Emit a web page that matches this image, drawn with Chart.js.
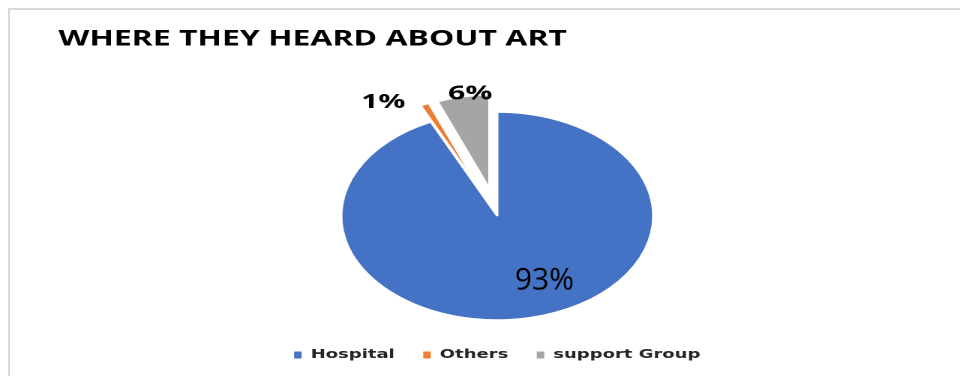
<!DOCTYPE html>
<html>
<head>
<meta charset="utf-8">
<title>Where they heard about ART</title>
<script src="https://cdn.jsdelivr.net/npm/chart.js@4.4.1/dist/chart.umd.min.js"></script>
<style>
  html, body { margin: 0; padding: 0; background: #fff; overflow: hidden; }
  body { width: 960px; height: 376px; position: relative; }
  .frame {
    position: absolute; left: 8px; top: 8px; width: 1000px; height: 400px;
    border-left: 2px solid #d9d9d9; border-top: 2px solid #d9d9d9;
  }
  /* chart is laid out at 640 wide and widened to fill the panel */
  .stretch {
    position: absolute; left: 0; top: 0; width: 640px; height: 376px;
    transform: scaleX(1.5); transform-origin: 0 0;
  }
</style>
</head>
<body>
<div class="frame"></div>
<div class="stretch"><canvas id="artChart" width="640" height="376"></canvas></div>
<script>
// =====================================================
// Where respondents heard about ART
// =====================================================

const sources = ['Hospital', 'Others', 'support Group'];
const shares = [93, 1, 6];
const sliceColors = ['#4472C4', '#ED7D31', '#A5A5A5'];

// pull slices out along their bisector (keeps the slice angle intact,
// unlike the built-in offset which narrows thin slices to nothing)
const explodeSlices = {
    id: 'explodeSlices',
    beforeDatasetsDraw(chart, args, opts) {
        const area = chart.chartArea;
        const cx = (area.left + area.right) / 2;
        const cy = (area.top + area.bottom) / 2;
        const meta = chart.getDatasetMeta(0);
        const full = meta.controller.outerRadius;
        meta.data.forEach((arc, i) => {
            const d = opts.pull[i] || 0;
            const mid = (arc.startAngle + arc.endAngle) / 2;
            arc.x = cx + Math.cos(mid) * d;
            arc.y = cy + Math.sin(mid) * d;
            arc.outerRadius = d ? full * opts.ratio : full;
        });
    }
};

// percentage labels around each slice
const pctLabels = {
    id: 'pctLabels',
    afterDatasetsDraw(chart, args, opts) {
        const ctx = chart.ctx;
        const area = chart.chartArea;
        const cx = (area.left + area.right) / 2;
        const cy = (area.top + area.bottom) / 2;
        const meta = chart.getDatasetMeta(0);
        const r = meta.controller.outerRadius;
        const values = chart.data.datasets[0].data;
        meta.data.forEach((arc, i) => {
            const mid = (arc.startAngle + arc.endAngle) / 2 + opts.turn[i] * Math.PI / 180;
            const x = cx + Math.cos(mid) * r * opts.dist[i];
            const y = cy + Math.sin(mid) * r * opts.dist[i];
            ctx.save();
            ctx.translate(x, y);
            ctx.scale(opts.squeeze[i], 1);
            ctx.font = opts.fonts[i];
            ctx.fillStyle = '#000';
            ctx.textAlign = 'center';
            ctx.textBaseline = 'middle';
            ctx.fillText(values[i] + '%', 0, 0);
            ctx.restore();
        });
    }
};

new Chart(document.getElementById('artChart'), {
    type: 'pie',
    data: {
        labels: sources,
        datasets: [{
            data: shares,
            backgroundColor: sliceColors,
            borderColor: '#fff',
            borderWidth: 1.5
        }]
    },
    plugins: [explodeSlices, pctLabels],
    options: {
        responsive: false,
        devicePixelRatio: 2,
        animation: false,
        events: [],
        radius: 104,
        layout: { padding: { left: 39, right: 16, top: 0, bottom: 5 } },
        plugins: {
            tooltip: { enabled: false },
            title: {
                display: true,
                text: 'WHERE THEY HEARD ABOUT ART',
                align: 'start',
                color: '#000',
                font: { family: 'Open Sans', weight: 'bold', size: 21.3 },
                padding: { top: 26.5, bottom: 50 }
            },
            legend: {
                position: 'bottom',
                labels: {
                    boxWidth: 5,
                    boxHeight: 7,
                    padding: 19,
                    color: '#262626',
                    font: { family: 'DejaVu Sans', weight: 'bold', size: 12 },
                    generateLabels(chart) {
                        return Chart.overrides.doughnut.plugins.legend.labels.generateLabels(chart)
                            .map(item => Object.assign(item, { lineWidth: 0 }));
                    }
                }
            },
            explodeSlices: { pull: [0, 28, 28], ratio: 0.9 },
            pctLabels: {
                dist: [0.694, 1.317, 1.186],
                turn: [-13.2, -10.3, 2.4],
                squeeze: [1 / 1.5, 1, 1],
                fonts: ['500 30px "Open Sans"', 'bold 20px "Open Sans"', 'bold 20px "Open Sans"']
            }
        }
    }
});
</script>
</body>
</html>
